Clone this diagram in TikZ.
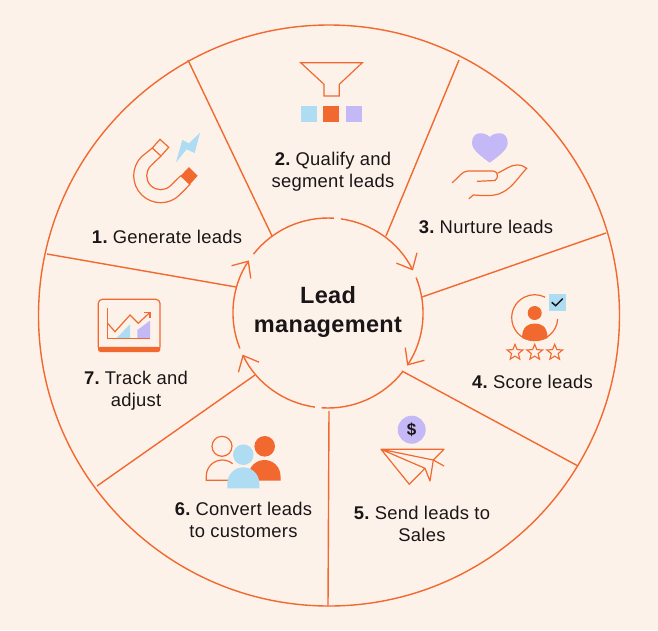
\documentclass[tikz,border=0pt]{standalone}
\usepackage{fontspec}
\setmainfont[LetterSpace=1.5]{Liberation Sans}
\usetikzlibrary{arrows.meta,shapes.geometric}
\definecolor{bgc}{HTML}{FDF2E9}
\definecolor{org}{HTML}{F2692F}
\definecolor{blu}{HTML}{ADDCF3}
\definecolor{pur}{HTML}{C4B8F7}
\definecolor{ink}{HTML}{1A1517}
\newcommand{\numgap}{\hspace{-2.2pt}}
\tikzset{
  ring/.style={draw=org,line width=1.4pt},
  spoke/.style={draw=org,line width=1.4pt},
  ico/.style={draw=org,line width=1.2pt,line join=miter},
  ringarrow/.style={ring,-{Straight Barb[length=13pt,width=23pt,line width=1.3pt]}},
  lbl/.style={font=\fontsize{18.4}{22}\selectfont,text=ink,align=center,inner sep=0pt},
  ttl/.style={font=\fontsize{23.5}{29}\selectfont\bfseries,text=ink,align=center,inner sep=0pt},
  staricon/.style={star,star points=5,star point ratio=2.3,draw=org,line width=1.1pt,minimum size=16.5pt,inner sep=0pt}
}
\begin{document}
\begin{tikzpicture}[x=1pt,y=-1pt]
\useasboundingbox (0,0) rectangle (658,630);
\fill[bgc] (0,0) rectangle (658,630);
\coordinate (O) at (329,315.5);
\coordinate (c) at (328,313);
% outer wheel
\draw[ring] (O) circle[radius=290.5pt];
% spokes
\coordinate (a1) at (272,236); \coordinate (b1) at (188,60);
\coordinate (a2) at (386,236); \coordinate (b2) at (459,60);
\coordinate (a3) at (422,297); \coordinate (b3) at (606,233);
\coordinate (a4) at (402,371); \coordinate (b4) at (578,466);
\coordinate (a5) at (329,411); \coordinate (b5) at (328,606);
\coordinate (a6) at (255,375); \coordinate (b6) at (97,486);
\coordinate (a7) at (236,287); \coordinate (b7) at (47,254);
\foreach \i in {1,...,7} \draw[spoke] (a\i) -- (b\i);
% inner ring
\draw[ringarrow] ([shift={(82.2:95pt)}]c) arc[start angle=82.2,end angle=26.6,radius=95pt];
\draw[ringarrow] ([shift={(21.9:95pt)}]c) arc[start angle=21.9,end angle=-33.6,radius=95pt];
\draw[ring] ([shift={(-38.3:95pt)}]c) arc[start angle=-38.3,end angle=-93.8,radius=95pt];
\draw[ringarrow] ([shift={(-97.9:95pt)}]c) arc[start angle=-97.9,end angle=-154,radius=95pt];
\draw[ringarrow] ([shift={(-158.1:95pt)}]c) arc[start angle=-158.1,end angle=-213.6,radius=95pt];
\draw[ring] ([shift={(141.7:95pt)}]c) arc[start angle=141.7,end angle=86.4,radius=95pt];
% centre
\node[ttl] (title) at (328,311.5) {Lead\\management};
% 1 magnet
\coordinate (m) at (160.7,175.7);
\draw[ico,line join=round] (152.3,148) -- ([shift={(135:27pt)}]m) arc[start angle=135,end angle=315,radius=27pt] -- (190,184.3) -- (180.7,175.7) -- ([shift={(315:14pt)}]m) arc[start angle=315,end angle=135,radius=14pt] -- (161,156) -- cycle;
\draw[ico] (152.3,148) -- (160,139.3) -- (168.7,147.3) -- (161,156);
\fill[org] (189,167) -- (197.7,175.7) -- (190,184.3) -- (180.7,175.7) -- cycle;
\fill[blu] (200,132.7) -- (194.7,153) -- (186.7,149.3) -- (176,162.3) -- (182.3,140) -- (189,143.3) -- cycle;
\node[lbl,anchor=base] (t1) at (167,243) {\textbf{1.}\numgap{} Generate leads};
% 2 funnel
\draw[ico] (300.7,62.7) -- (362.3,62.7) -- (339.3,84.3) -- (339.3,96) -- (324,96) -- (324,84.3) -- cycle;
\fill[blu] (301.3,106) rectangle (317.3,122.3);
\fill[org] (323.3,106) rectangle (339.3,122.3);
\fill[pur] (345.7,106) rectangle (362,122.3);
\node[lbl] (t2) at (333,171.5) {\textbf{2.}\numgap{} Qualify and\\segment leads};
% 3 heart and hand
\fill[pur] (489.7,137) .. controls (485,132) and (472,130) .. (472,143) .. controls (472,150) and (482,157) .. (489.7,162.7) .. controls (497.4,157) and (507.7,150) .. (507.7,143) .. controls (507.7,130) and (494.4,132) .. (489.7,137) -- cycle;
\draw[ico,line cap=round] (452.3,182.7) .. controls (458,178) and (462,171) .. (468,171) -- (493,171) .. controls (498,171) and (499,178) .. (495,180.5) -- (477.3,181.3);
\draw[ico,line cap=round] (497.7,173) .. controls (505,170) and (510,165) .. (517,165) .. controls (521,165) and (524,166) .. (526.7,168.3) .. controls (520,175) and (513,187) .. (503,192) .. controls (495,197) and (483,195.5) .. (473.3,195) -- (469,198.7);
\node[lbl,anchor=base] (t3) at (486,233) {\textbf{3.}\numgap{} Nurture leads};
% 4 score
\coordinate (s) at (534.7,317.7);
\draw[ico] ([shift={(-3:23pt)}]s) arc[start angle=-3,end angle=-297,radius=23pt];
\fill[org] (s) ++(0,-4.7) circle[radius=7pt];
\fill[org] (522,338) .. controls (522,326) and (529,323.5) .. (534.7,323.5) .. controls (541,323.5) and (547.5,326) .. (547.5,338) .. controls (540,341.5) and (530,341.5) .. (522,338) -- cycle;
\fill[blu] (549,294) rectangle (565.7,311);
\draw[ink,line width=1.5pt] (551.7,302.3) -- (555.7,305.7) -- (562.7,298.7);
\node[staricon] (st1) at (515,352.5) {};
\node[staricon] (st2) at (534.7,352.5) {};
\node[staricon] (st3) at (554.7,352.5) {};
\node[lbl,anchor=base] (t4) at (532.5,388) {\textbf{4.}\numgap{} Score leads};
% 5 plane
\fill[pur] (411.7,429.7) circle[radius=14pt];
\node[font=\fontsize{17}{17}\selectfont\bfseries,text=ink,inner sep=0pt] (dollar) at (411.7,429.7) {\$};
\draw[ico,line join=round] (381,449.3) -- (444,449.3) -- (433.3,460) -- (381,449.3) -- (409.3,484.3) -- (425,468.3) -- (381,449.3);
\draw[ico,line join=round] (433.3,460) -- (430,481) -- (425,468.3);
\draw[ico] (433.3,460) -- (444,466);
\node[lbl] (t5) at (422,523.5) {\textbf{5.}\numgap{} Send leads to\\Sales};
% 6 people
\draw[ico] (222,446.3) circle[radius=10pt];
\draw[ico] (235,480.3) -- (206.3,480.3) -- (206.3,476) arc[start angle=180,end angle=50,radius=16pt];
\fill[org] (264.7,446.3) circle[radius=10.3pt];
\fill[org] (250,480.7) -- (248.5,476) arc[start angle=180,end angle=0,radius=16pt] -- (280.5,480.7) -- cycle;
\fill[blu] (243.3,454.7) circle[radius=10.3pt];
\fill[blu] (227.3,488.3) -- (227.3,483.3) arc[start angle=180,end angle=0,radius=16pt] -- (259.3,488.3) -- cycle;
\node[lbl] (t6) at (243.5,520) {\textbf{6.}\numgap{} Convert leads\\to customers};
% 7 chart
\draw[ico,rounded corners=4pt] (98.3,299.3) rectangle (160,351);
\fill[org,rounded corners=2.5pt] (98,346.8) rectangle (160.4,352);
\fill[blu] (116.7,338) -- (130,324.3) -- (130,338) -- cycle;
\fill[pur] (137.3,338) -- (137.3,330) -- (150,320.7) -- (150,338) -- cycle;
\draw[ico] (107.7,308.3) -- (107.7,338.7) -- (150.3,338.7);
\draw[ico] (107.7,323.3) -- (115,331.7) -- (130,315) -- (138.3,323.3) -- (150,312.3);
\draw[ico] (144,312.3) -- (150,312.3) -- (150,318.3);
\node[lbl] (t7) at (136,390.5) {\textbf{7.}\numgap{} Track and\\adjust};
\end{tikzpicture}
\end{document}
